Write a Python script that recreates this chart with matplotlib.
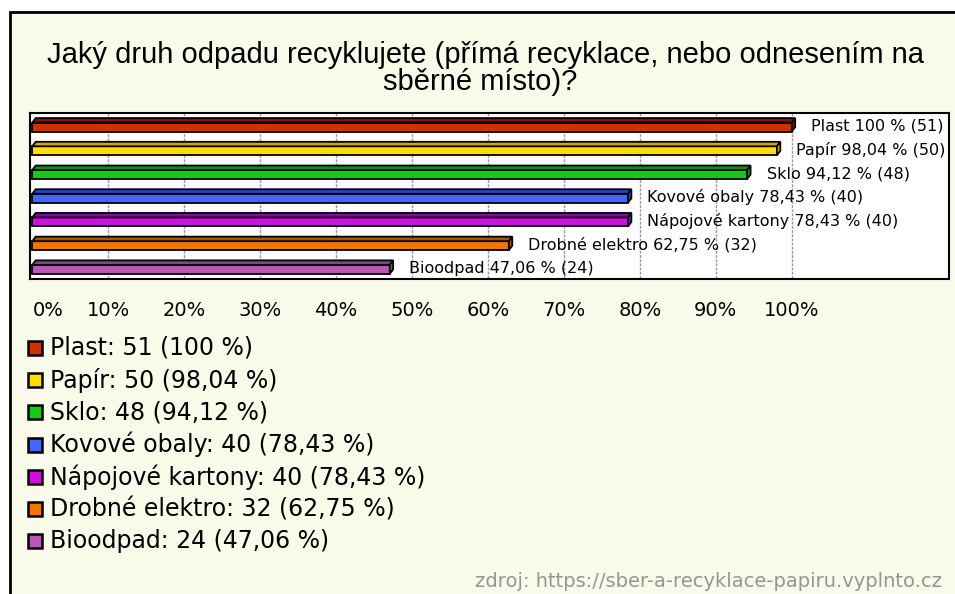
import matplotlib
matplotlib.use("Agg")
import matplotlib.pyplot as plt
from matplotlib.patches import Rectangle, Polygon

categories = ["Plast", "Papír", "Sklo", "Kovové obaly", "Nápojové kartony",
              "Drobné elektro", "Bioodpad"]
counts = [51, 50, 48, 40, 40, 32, 24]
percents = [100, 98.04, 94.12, 78.43, 78.43, 62.75, 47.06]
pct_text = ["100", "98,04", "94,12", "78,43", "78,43", "62,75", "47,06"]
front_colors = ["#cc3300", "#ffdd00", "#11cc11", "#4466ff", "#cc11dd", "#ee7700", "#bb55bb"]
top_colors = ["#881100", "#ccaa00", "#009900", "#2244cc", "#8800aa", "#aa5500", "#884488"]
xticks = list(range(0, 101, 10))

title = "Jaký druh odpadu recyklujete (přímá recyklace, nebo odnesením na\nsběrné místo)?"
source = "zdroj: https://sber-a-recyklace-papiru.vyplnto.cz"

W, H = 955, 594
fig = plt.figure(figsize=(W / 100, H / 100), dpi=100, facecolor="white")

# cream panel with black frame (top/left visible)
fig.patches.append(Rectangle((10 / W, -0.02), 1.1, 1 - 12 / H + 0.02,
                             transform=fig.transFigure, facecolor="#fafaeb",
                             edgecolor="black", lw=2, zorder=-1))

fig.text(485 / W, 1 - 63 / H, title.split("\n")[0], ha="center", va="baseline",
         fontsize=21, family="Liberation Sans")
fig.text(480 / W, 1 - 90 / H, title.split("\n")[1], ha="center", va="baseline",
         fontsize=21, family="Liberation Sans")

ax = fig.add_axes([30 / W, 1 - 279 / H, 919 / W, 166 / H])
ax.set_facecolor("white")
ax.set_xlim(-0.3, 120.7)
ax.set_ylim(6.5, -0.5)
for s in ax.spines.values():
    s.set_linewidth(1.5)
    s.set_color("black")

ax.vlines(xticks[1:], -0.5, 6.5, colors="#a090b0", linestyles=(0, (2, 1)), lw=1, zorder=1)

hf, ht, dx = 0.38, 0.19, 0.45
for i, (v, fc, tc) in enumerate(zip(percents, front_colors, top_colors)):
    c = i + ht / 2
    top = c - hf / 2
    ax.barh(c, v, height=hf, color=fc, edgecolor="black", lw=1.3, zorder=3)
    ax.add_patch(Polygon([(dx, top - ht), (v + dx, top - ht), (v, top), (0, top)],
                         closed=True, facecolor=tc, edgecolor="black", lw=1.3, zorder=3))
    ax.add_patch(Polygon([(v, top), (v + dx, top - ht), (v + dx, top + hf - ht), (v, top + hf)],
                         closed=True, facecolor=tc, edgecolor="black", lw=1.3, zorder=3))
    ax.annotate(f"{categories[i]} {pct_text[i]} % ({counts[i]})", (v, i),
                xytext=(14, -1), textcoords="offset points", ha="left", va="center",
                fontsize=11.5, family="DejaVu Sans", zorder=4)

ax.set_yticks([])
ax.set_xticks(xticks)
ax.set_xticklabels([f"{t}%" for t in xticks], fontsize=14, family="DejaVu Sans")
ax.tick_params(axis="x", length=0, pad=16)
ax.get_xticklabels()[0].set_ha("left")

# legend
for i, cat in enumerate(categories):
    yc = 348 + i * 32.2
    fig.patches.append(Rectangle((28 / W, 1 - (yc + 7) / H), 14 / W, 14 / H,
                                 transform=fig.transFigure, facecolor=front_colors[i],
                                 edgecolor="black", lw=1.8, zorder=2))
    fig.text(50 / W, 1 - yc / H, f"{cat}: {counts[i]} ({pct_text[i]} %)",
             ha="left", va="center", fontsize=17, family="DejaVu Sans")

fig.text(942 / W, 1 - 587 / H, source, ha="right", va="baseline",
         fontsize=14, color="#959595", family="DejaVu Sans")

fig.savefig("out.png", dpi=100, facecolor=fig.get_facecolor())
